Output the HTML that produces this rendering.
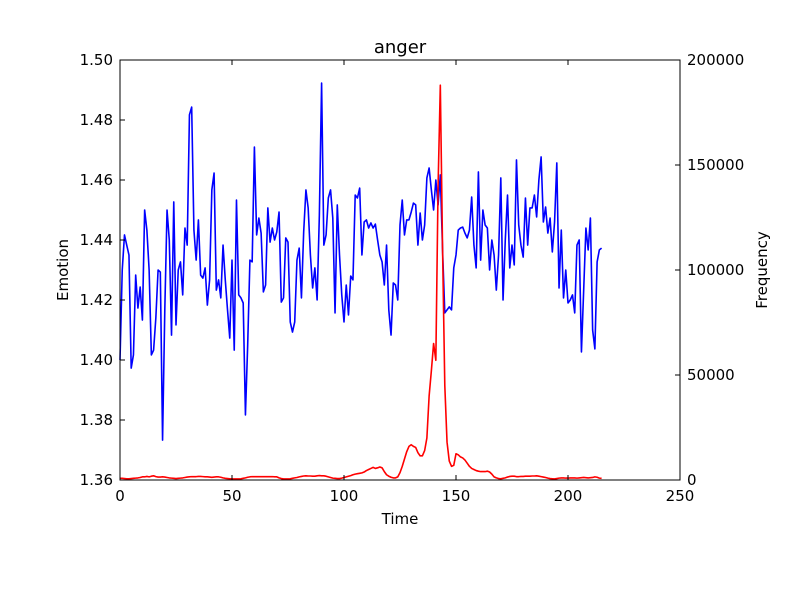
<!DOCTYPE html>
<html><head><meta charset="utf-8"><style>
body{margin:0;background:#fff;}
svg text{font-family:"DejaVu Sans","Liberation Sans",sans-serif;fill:#000;}
</style></head><body>
<svg id="chart" width="800" height="600" xmlns="http://www.w3.org/2000/svg">
<rect x="0" y="0" width="800" height="600" fill="#fff"/>
<g id="plot"></g>
</svg>
<script>
const xTicks=[0,50,100,150,200,250];
const yLeftTicks=[1.36,1.38,1.40,1.42,1.44,1.46,1.48,1.50];
const yLeftLabels=["1.36","1.38","1.40","1.42","1.44","1.46","1.48","1.50"];
const yRightTicks=[0,50000,100000,150000,200000];
const yRightLabels=["0","50000","100000","150000","200000"];
const emotion=[1.4000,1.4300,1.4417,1.4383,1.4350,1.3973,1.4017,1.4283,1.4173,1.4243,1.4133,1.4500,1.4433,1.4300,1.4017,1.4033,1.4140,1.4300,1.4293,1.3733,1.4167,1.4500,1.4400,1.4083,1.4527,1.4117,1.4300,1.4327,1.4217,1.4440,1.4383,1.4817,1.4843,1.4433,1.4333,1.4467,1.4283,1.4273,1.4307,1.4183,1.4267,1.4567,1.4623,1.4233,1.4267,1.4207,1.4383,1.4267,1.4167,1.4073,1.4333,1.4033,1.4533,1.4217,1.4207,1.4190,1.3817,1.4050,1.4333,1.4327,1.4710,1.4417,1.4473,1.4423,1.4227,1.4250,1.4507,1.4393,1.4440,1.4400,1.4427,1.4493,1.4193,1.4207,1.4407,1.4393,1.4127,1.4093,1.4127,1.4333,1.4373,1.4207,1.4427,1.4567,1.4507,1.4350,1.4240,1.4307,1.4200,1.4483,1.4923,1.4383,1.4417,1.4540,1.4567,1.4473,1.4157,1.4517,1.4350,1.4217,1.4127,1.4250,1.4150,1.4280,1.4267,1.4550,1.4540,1.4573,1.4350,1.4460,1.4467,1.4440,1.4457,1.4440,1.4453,1.4400,1.4350,1.4327,1.4250,1.4383,1.4167,1.4083,1.4257,1.4250,1.4200,1.4450,1.4533,1.4417,1.4467,1.4467,1.4493,1.4523,1.4517,1.4383,1.4490,1.4400,1.4450,1.4607,1.4640,1.4567,1.4500,1.4600,1.4517,1.4617,1.4367,1.4157,1.4167,1.4177,1.4167,1.4307,1.4350,1.4433,1.4440,1.4443,1.4423,1.4407,1.4433,1.4543,1.4383,1.4307,1.4627,1.4333,1.4500,1.4450,1.4440,1.4300,1.4400,1.4350,1.4233,1.4350,1.4607,1.4200,1.4400,1.4550,1.4307,1.4383,1.4317,1.4667,1.4450,1.4383,1.4343,1.4540,1.4383,1.4507,1.4507,1.4550,1.4477,1.4600,1.4677,1.4460,1.4510,1.4423,1.4473,1.4360,1.4460,1.4657,1.4240,1.4433,1.4207,1.4300,1.4190,1.4200,1.4217,1.4157,1.4383,1.4400,1.4027,1.4233,1.4440,1.4367,1.4473,1.4100,1.4037,1.4327,1.4367,1.4373];
const frequency=[800,800,700,600,600,700,800,900,1000,1200,1500,
1500,1700,1500,1800,2000,1600,1400,1400,1500,1400,
1200,1000,900,800,700,800,900,1000,1200,1400,
1500,1600,1600,1600,1700,1700,1600,1500,1500,1400,
1300,1400,1500,1500,1300,1000,800,700,600,500,
500,500,500,600,800,1000,1300,1500,1600,1600,
1600,1600,1600,1600,1600,1600,1600,1600,1500,1500,
1000,700,500,500,500,600,800,1000,1200,1500,
1700,1900,2000,1900,1900,1800,1800,2000,2100,2000,
2000,1800,1500,1200,900,800,700,700,900,1200,
1500,1800,2100,2500,2800,3000,3200,3400,3800,4500,
5000,5500,6000,5500,5800,6200,5800,4000,2500,1800,
1300,1000,1000,1500,3500,6500,10000,13500,16000,16800,
16000,15500,13000,11500,11500,14000,20000,40000,52000,65000,
57000,140000,188000,110000,45000,18000,9000,6500,7000,12500,
12000,11000,10500,9500,8000,6500,5500,5000,4500,4200,
4000,4000,4000,4200,3800,2800,1500,1000,700,600,
800,1000,1400,1700,1800,1800,1600,1600,1700,1700,
1800,1800,1800,1900,1900,2000,1800,1600,1400,1200,
900,700,600,500,700,900,1000,1000,900,900,
1000,1000,1000,900,1000,1100,1200,1100,1000,1100,
1200,1500,1300,900,800];

const L=120,R=680,T=60,B=480;
const sx=v=>L+(v-0)/(250-0)*(R-L);
const syL=v=>B-(v-1.36)/(1.50-1.36)*(B-T);
const syR=v=>B-(v-0)/(200000-0)*(B-T);
const NS="http://www.w3.org/2000/svg";
const g=document.getElementById('plot');
function mk(tag,attrs){const e=document.createElementNS(NS,tag);for(const k in attrs)e.setAttribute(k,attrs[k]);g.appendChild(e);return e;}

let d=emotion.map((v,i)=>(i?'L':'M')+sx(i).toFixed(2)+','+syL(v).toFixed(2)).join('');
const bl=mk('path',{d:d,fill:'none',stroke:'#0000ff','stroke-width':1.6,'stroke-linejoin':'round'});


d=frequency.map((v,i)=>(i?'L':'M')+sx(i).toFixed(2)+','+syR(v).toFixed(2)).join('');
const rl=mk('path',{d:d,fill:'none',stroke:'#ff0000','stroke-width':1.6,'stroke-linejoin':'round'});



const fr=mk('rect',{x:L,y:T,width:R-L,height:B-T,fill:'none',stroke:'#000','stroke-width':1});



xTicks.forEach(v=>{const x=sx(v);
 mk('line',{x1:x,y1:B,x2:x,y2:B-5,stroke:'#000'});
 mk('line',{x1:x,y1:T,x2:x,y2:T+5,stroke:'#000'});
 const t=mk('text',{x:x,y:B+21,'text-anchor':'middle','font-size':15});t.textContent=v;
 
 
});
yLeftTicks.forEach((v,i)=>{const y=syL(v);
 mk('line',{x1:L,y1:y,x2:L+5,y2:y,stroke:'#000'});
 const t=mk('text',{x:L-7,y:y+5,'text-anchor':'end','font-size':15});t.textContent=yLeftLabels[i];
 
 
});
yRightTicks.forEach((v,i)=>{const y=syR(v);
 mk('line',{x1:R,y1:y,x2:R-5,y2:y,stroke:'#000'});
 const t=mk('text',{x:R+7,y:y+5,'text-anchor':'start','font-size':15});t.textContent=yRightLabels[i];
 
 
});
let t=mk('text',{x:400,y:53,'text-anchor':'middle','font-size':18});t.textContent='anger';


t=mk('text',{x:400,y:524,'text-anchor':'middle','font-size':15});t.textContent='Time';


t=mk('text',{x:0,y:0,'text-anchor':'middle','font-size':15,transform:'translate(68,270) rotate(-90)'});t.textContent='Emotion';


t=mk('text',{x:0,y:0,'text-anchor':'middle','font-size':15,transform:'translate(767,270) rotate(-90)'});t.textContent='Frequency';


</script>
</body></html>
